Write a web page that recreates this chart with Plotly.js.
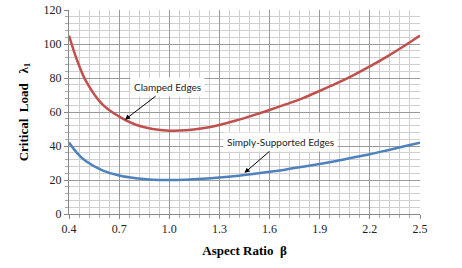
<!DOCTYPE html>
<html>
<head>
<meta charset="utf-8">
<script src="https://cdn.plot.ly/plotly-3.0.1.min.js"></script>
<style>html,body{margin:0;padding:0;background:#fff;}#chart{width:462px;height:268px;}</style>
</head>
<body>
<div id="chart"></div>
<script>
var beta = [0.4, 0.45, 0.5, 0.6, 0.7, 0.8, 0.9, 1.0, 1.1, 1.2, 1.3, 1.4, 1.5, 1.6, 1.7, 1.8, 1.9, 2.0, 2.1, 2.2, 2.3, 2.4, 2.5];
var clamped = [105, 90, 78.5, 64.5, 57.3, 52.5, 50, 49, 49.2, 50.4, 52.4, 55, 58, 61.2, 64.6, 68.2, 72.4, 76.8, 81.6, 86.8, 92.4, 98.5, 105];
var simply = [42, 35.7, 31.2, 25.7, 22.6, 21, 20.2, 20, 20.2, 20.7, 21.4, 22.3, 23.5, 24.8, 26.2, 27.8, 29.4, 31.2, 33.2, 35.2, 37.4, 39.7, 42];
var xTicks = [0.4, 0.7, 1.0, 1.3, 1.6, 1.9, 2.2, 2.5];
var xTickText = ["0.4", "0.7", "1.0", "1.3", "1.6", "1.9", "2.2", "2.5"];
var yTicks = [0, 20, 40, 60, 80, 100, 120];

var traces = [
  {x: beta, y: clamped, mode: 'lines', line: {color: '#C0504D', width: 2.5, shape: 'spline'}, hoverinfo: 'skip'},
  {x: beta, y: simply, mode: 'lines', line: {color: '#4F81BD', width: 2.5, shape: 'spline'}, hoverinfo: 'skip'}
];

var tickFont = {family: 'Liberation Serif, Times New Roman, serif', size: 12, color: '#222'};
var titleFont = {family: 'Liberation Serif, Times New Roman, serif', size: 13, color: '#000', weight: 'bold'};
var annFont = {family: 'Lato, Open Sans, sans-serif', size: 10, color: '#222'};

var layout = {
  width: 462, height: 268,
  margin: {l: 69, r: 42, t: 10, b: 54},
  paper_bgcolor: '#fff', plot_bgcolor: '#fff',
  showlegend: false,
  xaxis: {
    range: [0.4, 2.5], tickmode: 'array', tickvals: xTicks, ticktext: xTickText,
    tickfont: tickFont, showgrid: true, gridcolor: '#9a9a9a', gridwidth: 1,
    showline: true, linecolor: '#888', linewidth: 1, zeroline: false,
    ticks: 'outside', ticklen: 4, tickcolor: '#888',
    minor: {dtick: 0.06, tick0: 0.4, showgrid: true, gridcolor: '#cfcfcf', gridwidth: 1, ticks: 'outside', ticklen: 3, tickcolor: '#aaa'},
    title: {text: 'Aspect Ratio\u00a0\u00a0β', font: titleFont, standoff: 10}
  },
  yaxis: {
    range: [0, 120], tickmode: 'array', tickvals: yTicks,
    tickfont: tickFont, showgrid: true, gridcolor: '#9a9a9a', gridwidth: 1,
    showline: true, linecolor: '#888', linewidth: 1, zeroline: false,
    ticks: 'outside', ticklen: 4, tickcolor: '#888',
    minor: {dtick: 4, tick0: 0, showgrid: true, gridcolor: '#cfcfcf', gridwidth: 1, ticks: 'outside', ticklen: 3, tickcolor: '#aaa'},
    title: {text: 'Critical\u00a0\u00a0Load\u00a0\u00a0\u00a0λ<sub>1</sub>', font: titleFont, standoff: 12}
  },
  annotations: [
    {x: 0.735, y: 55.5, xref: 'x', yref: 'y', text: 'Clamped Edges', font: annFont,
     showarrow: true, arrowhead: 2, arrowsize: 1, arrowwidth: 1, arrowcolor: '#000',
     ax: 43, ay: -33, bgcolor: '#fff', borderpad: 3},
    {x: 1.45, y: 24.2, xref: 'x', yref: 'y', text: 'Simply-Supported Edges', font: annFont,
     showarrow: true, arrowhead: 2, arrowsize: 1, arrowwidth: 1, arrowcolor: '#000',
     ax: 36, ay: -31, bgcolor: '#fff', borderpad: 3}
  ]
};

Plotly.newPlot('chart', traces, layout, {displayModeBar: false, staticPlot: true});
</script>
</body>
</html>
